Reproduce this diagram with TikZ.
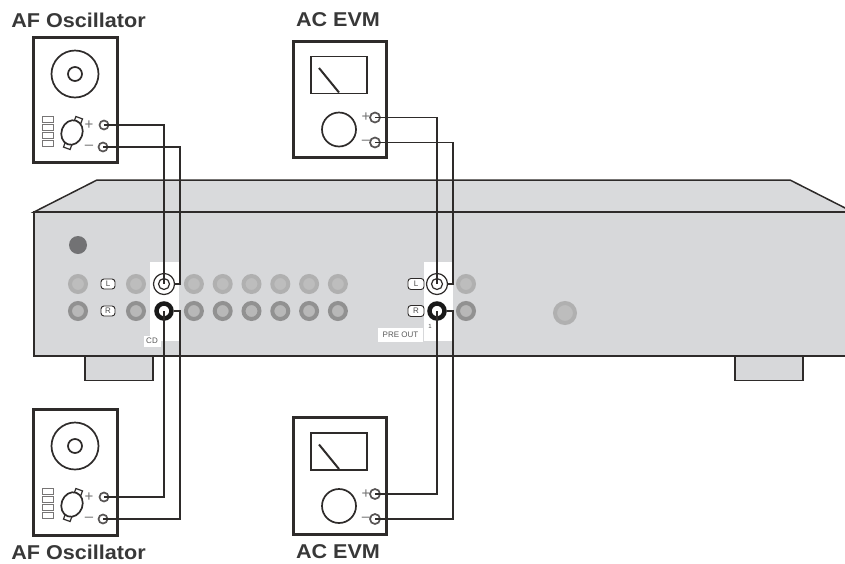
\documentclass[tikz,border=0pt]{standalone}
\usepackage{fontspec}
\setmainfont{Liberation Sans}
\newfontfamily\titlefont[FakeStretch=1.08]{Liberation Sans}
\usetikzlibrary{positioning, calc, shapes.geometric}
\usepackage{xcolor}
\definecolor{myline}{HTML}{2E2B2A}
\definecolor{mypanel}{HTML}{D7D8DA}
\definecolor{mytop}{HTML}{D9DADC}
\definecolor{mydark}{HTML}{727274}
\tikzset{
  unit/.style={rectangle, draw=myline, line width=3pt, fill=white, inner sep=0pt},
  ring/.style={circle, draw=myline, line width=1.7pt, inner sep=0pt},
  term/.style={circle, draw=myline!80, line width=1.7pt, fill=white, minimum size=9pt, inner sep=0pt},
  tab/.style={rectangle, draw=myline, line width=1.2pt, fill=white, minimum size=7pt, inner sep=0pt, rotate=-20},
  bar/.style={rectangle, draw=myline!65, line width=1pt, minimum width=11pt, minimum height=6pt, inner sep=0pt},
  sign/.style={font=\fontsize{15}{16}\selectfont, text=black!55, inner sep=0pt}
}
% Oszillator: name, x, y, Hoehe
\newcommand{\oscillator}[4]{
  \node[unit, minimum width=84pt, minimum height=#4] (#1box) at (#2,#3) {};
  \node[ring, minimum size=47pt] (#1dial) at ($(#1box)+(0,-26)$) {};
  \node[ring, minimum size=14pt] (#1hub) at (#1dial) {};
  \node[bar] (#1a) at ($(#1box)+(-27,19)$) {};
  \node[bar] (#1b) at ($(#1box)+(-27,27)$) {};
  \node[bar] (#1c) at ($(#1box)+(-27,35)$) {};
  \node[bar] (#1d) at ($(#1box)+(-27,43)$) {};
  \node[tab] (#1up) at ($(#1box)+(3,21)$) {};
  \node[tab] (#1dn) at ($(#1box)+(-7,45)$) {};
  \node[ellipse, draw=myline, line width=1.7pt, fill=white, minimum width=21pt, minimum height=25pt, inner sep=0pt, rotate=-20] (#1knob) at ($(#1box)+(-3,32.5)$) {};
  \node[sign] (#1p) at ($(#1box)+(14,25)$) {+};
  \node[sign] (#1m) at ($(#1box)+(14,47)$) {--};
  \node[term] (#1plus) at ($(#1box)+(29,25)$) {};
  \node[term] (#1minus) at ($(#1box)+(28,47)$) {};
}
% Voltmeter: name, x, y, Hoehe
\newcommand{\evm}[4]{
  \node[unit, line width=3.6pt, minimum width=93pt, minimum height=#4] (#1box) at (#2,#3) {};
  \node[rectangle, draw=myline, line width=1.7pt, minimum width=56pt, minimum height=37pt, inner sep=0pt] (#1meter) at ($(#1box)+(-1,-24.5)$) {};
  \coordinate (#1tip) at ($(#1meter)+(-20,-7)$);
  \coordinate (#1foot) at ($(#1meter)+(0,17.5)$);
  \draw[myline, line width=2pt] (#1tip) -- (#1foot);
  \node[ring, minimum size=34pt] (#1knob) at ($(#1box)+(-1,30)$) {};
  \node[sign] (#1p) at ($(#1box)+(26,18)$) {+};
  \node[sign] (#1m) at ($(#1box)+(26,43)$) {--};
  \node[term, minimum size=10pt] (#1plus) at ($(#1box)+(35,18)$) {};
  \node[term, minimum size=10pt] (#1minus) at ($(#1box)+(35,43)$) {};
}
\begin{document}
\begin{tikzpicture}[
    x=1pt, y=-1pt,
    node distance=7pt and 8.8pt,
    title/.style={font=\titlefont\bfseries\fontsize{20}{22}\selectfont, text=black!78, inner sep=0pt},
    tiny/.style={font=\fontsize{8}{9}\selectfont, fill=white, text=black!65, inner sep=1.5pt},
    foot/.style={rectangle, draw=myline, line width=1.5pt, fill=mypanel, minimum width=68pt, minimum height=25pt, inner sep=0pt},
    patch/.style={rectangle, fill=white, minimum width=29pt, minimum height=79pt, inner sep=0pt},
    jack/.style={circle, draw=black!31, line width=4pt, fill=black!26, minimum size=16pt, inner sep=0pt},
    jackDark/.style={jack, draw=black!43, fill=black!28},
    jackL/.style={circle, draw=myline, line width=1.2pt, fill=white, minimum size=21pt, inner sep=0pt},
    jackR/.style={circle, draw=black!90, line width=4.5pt, fill=white, minimum size=15pt, inner sep=0pt},
    pill/.style={rectangle, rounded corners=3pt, draw=myline, line width=0.9pt, fill=white, text=black!70, font=\fontsize{8}{9}\selectfont, inner sep=0pt},
    wire/.style={draw=myline, line width=1.8pt}
  ]
  \useasboundingbox (0,0) rectangle (845,563);
  % Fuesse
  \node[foot] (footL) at (119,368) {};
  \node[foot] (footR) at (769,368) {};
  % Gehaeuse
  \draw[myline, line width=1.5pt, fill=mytop] (34,212) -- (97,180) -- (790,180) -- (853,212) -- cycle;
  \draw[myline, line width=1.5pt, fill=mypanel] (34,212) rectangle (860,356);
  \node[circle, fill=mydark, minimum size=18pt, inner sep=0pt] (power) at (78,245) {};
  % Weisse Felder
  \node[patch] (patchCD) at (164.5,301.5) {};
  \node[patch] (patchPre) at (438,301) {};
  \node[tiny, minimum width=17pt, minimum height=11pt, inner sep=0pt] (labelCD) at (152,341) {CD};
  \node[tiny, minimum width=45pt, minimum height=14pt, inner sep=0pt] (labelPre) at (400.5,335) {PRE OUT};
  \node[font=\fontsize{6}{7}\selectfont, text=black!70, inner sep=0pt] (labelOne) at (430,326) {1};
  % Buchsen oben
  \node[jack] (l1) at (78,284) {};
  \node[jack] (l2) at (136,284) {};
  \node[jackL] (cdL) at (164,284) {};
  \node[ring, minimum size=11pt, line width=1.2pt] (cdLhub) at (cdL) {};
  \node[jack, right=of cdL] (l3) {};
  \node[jack, right=of l3] (l4) {};
  \node[jack, right=of l4] (l5) {};
  \node[jack, right=of l5] (l6) {};
  \node[jack, right=of l6] (l7) {};
  \node[jack, right=of l7] (l8) {};
  % Buchsen unten
  \node[jackDark, below=of l1] (r1) {};
  \node[jackDark, below=of l2] (r2) {};
  \node[jackR] (cdR) at (164,311) {};
  \node[jackDark, below=of l3] (r3) {};
  \node[jackDark, below=of l4] (r4) {};
  \node[jackDark, below=of l5] (r5) {};
  \node[jackDark, below=of l6] (r6) {};
  \node[jackDark, below=of l7] (r7) {};
  \node[jackDark, below=of l8] (r8) {};
  % PRE OUT
  \node[jackL] (preL) at (437,284) {};
  \node[ring, minimum size=11pt, line width=1.2pt] (preLhub) at (preL) {};
  \node[jackR] (preR) at (437,311) {};
  \node[jack] (l9) at (466,284) {};
  \node[jackDark] (r9) at (466,311) {};
  \node[jack, minimum size=20pt] (volume) at (565,313) {};
  \node[pill, minimum width=14pt, minimum height=10pt] (pillL) at (108,284) {L};
  \node[pill, minimum width=14pt, minimum height=10pt] (pillR) at (108,311) {R};
  \node[pill, minimum width=16pt, minimum height=11pt] (pillPreL) at (416,284) {L};
  \node[pill, minimum width=16pt, minimum height=11pt] (pillPreR) at (416,311) {R};
  % Geraete
  \oscillator{oscTop}{75}{100}{125pt}
  \oscillator{oscBot}{75}{472}{126pt}
  \evm{evmTop}{340}{99.5}{116pt}
  \evm{evmBot}{340}{476}{117pt}
  \node[title] (titleOscTop) at (78.5,20) {AF Oscillator};
  \node[title] (titleOscBot) at (78.5,552) {AF Oscillator};
  \node[title] (titleEvmTop) at (338,20) {AC EVM};
  \node[title] (titleEvmBot) at (338,552) {AC EVM};
  % Knickpunkte
  \coordinate (turnCdL) at (180,284);
  \coordinate (turnCdR) at (180,311);
  \coordinate (turnPreL) at (453,284);
  \coordinate (turnPreR) at (453,311);
  % Leitungen
  \draw[wire] (oscTopplus.center) -| (cdL.center);
  \draw[wire] (oscTopminus.center) -| (turnCdL) -- (cdL.east);
  \draw[wire] (oscBotplus.center) -| (cdR.center);
  \draw[wire] (oscBotminus.center) -| (turnCdR) -- (cdR.east);
  \draw[wire] (evmTopplus.center) -| (preL.center);
  \draw[wire] (evmTopminus.center) -| (turnPreL) -- (preL.east);
  \draw[wire] (evmBotplus.center) -| (preR.center);
  \draw[wire] (evmBotminus.center) -| (turnPreR) -- (preR.east);
\end{tikzpicture}
\end{document}
